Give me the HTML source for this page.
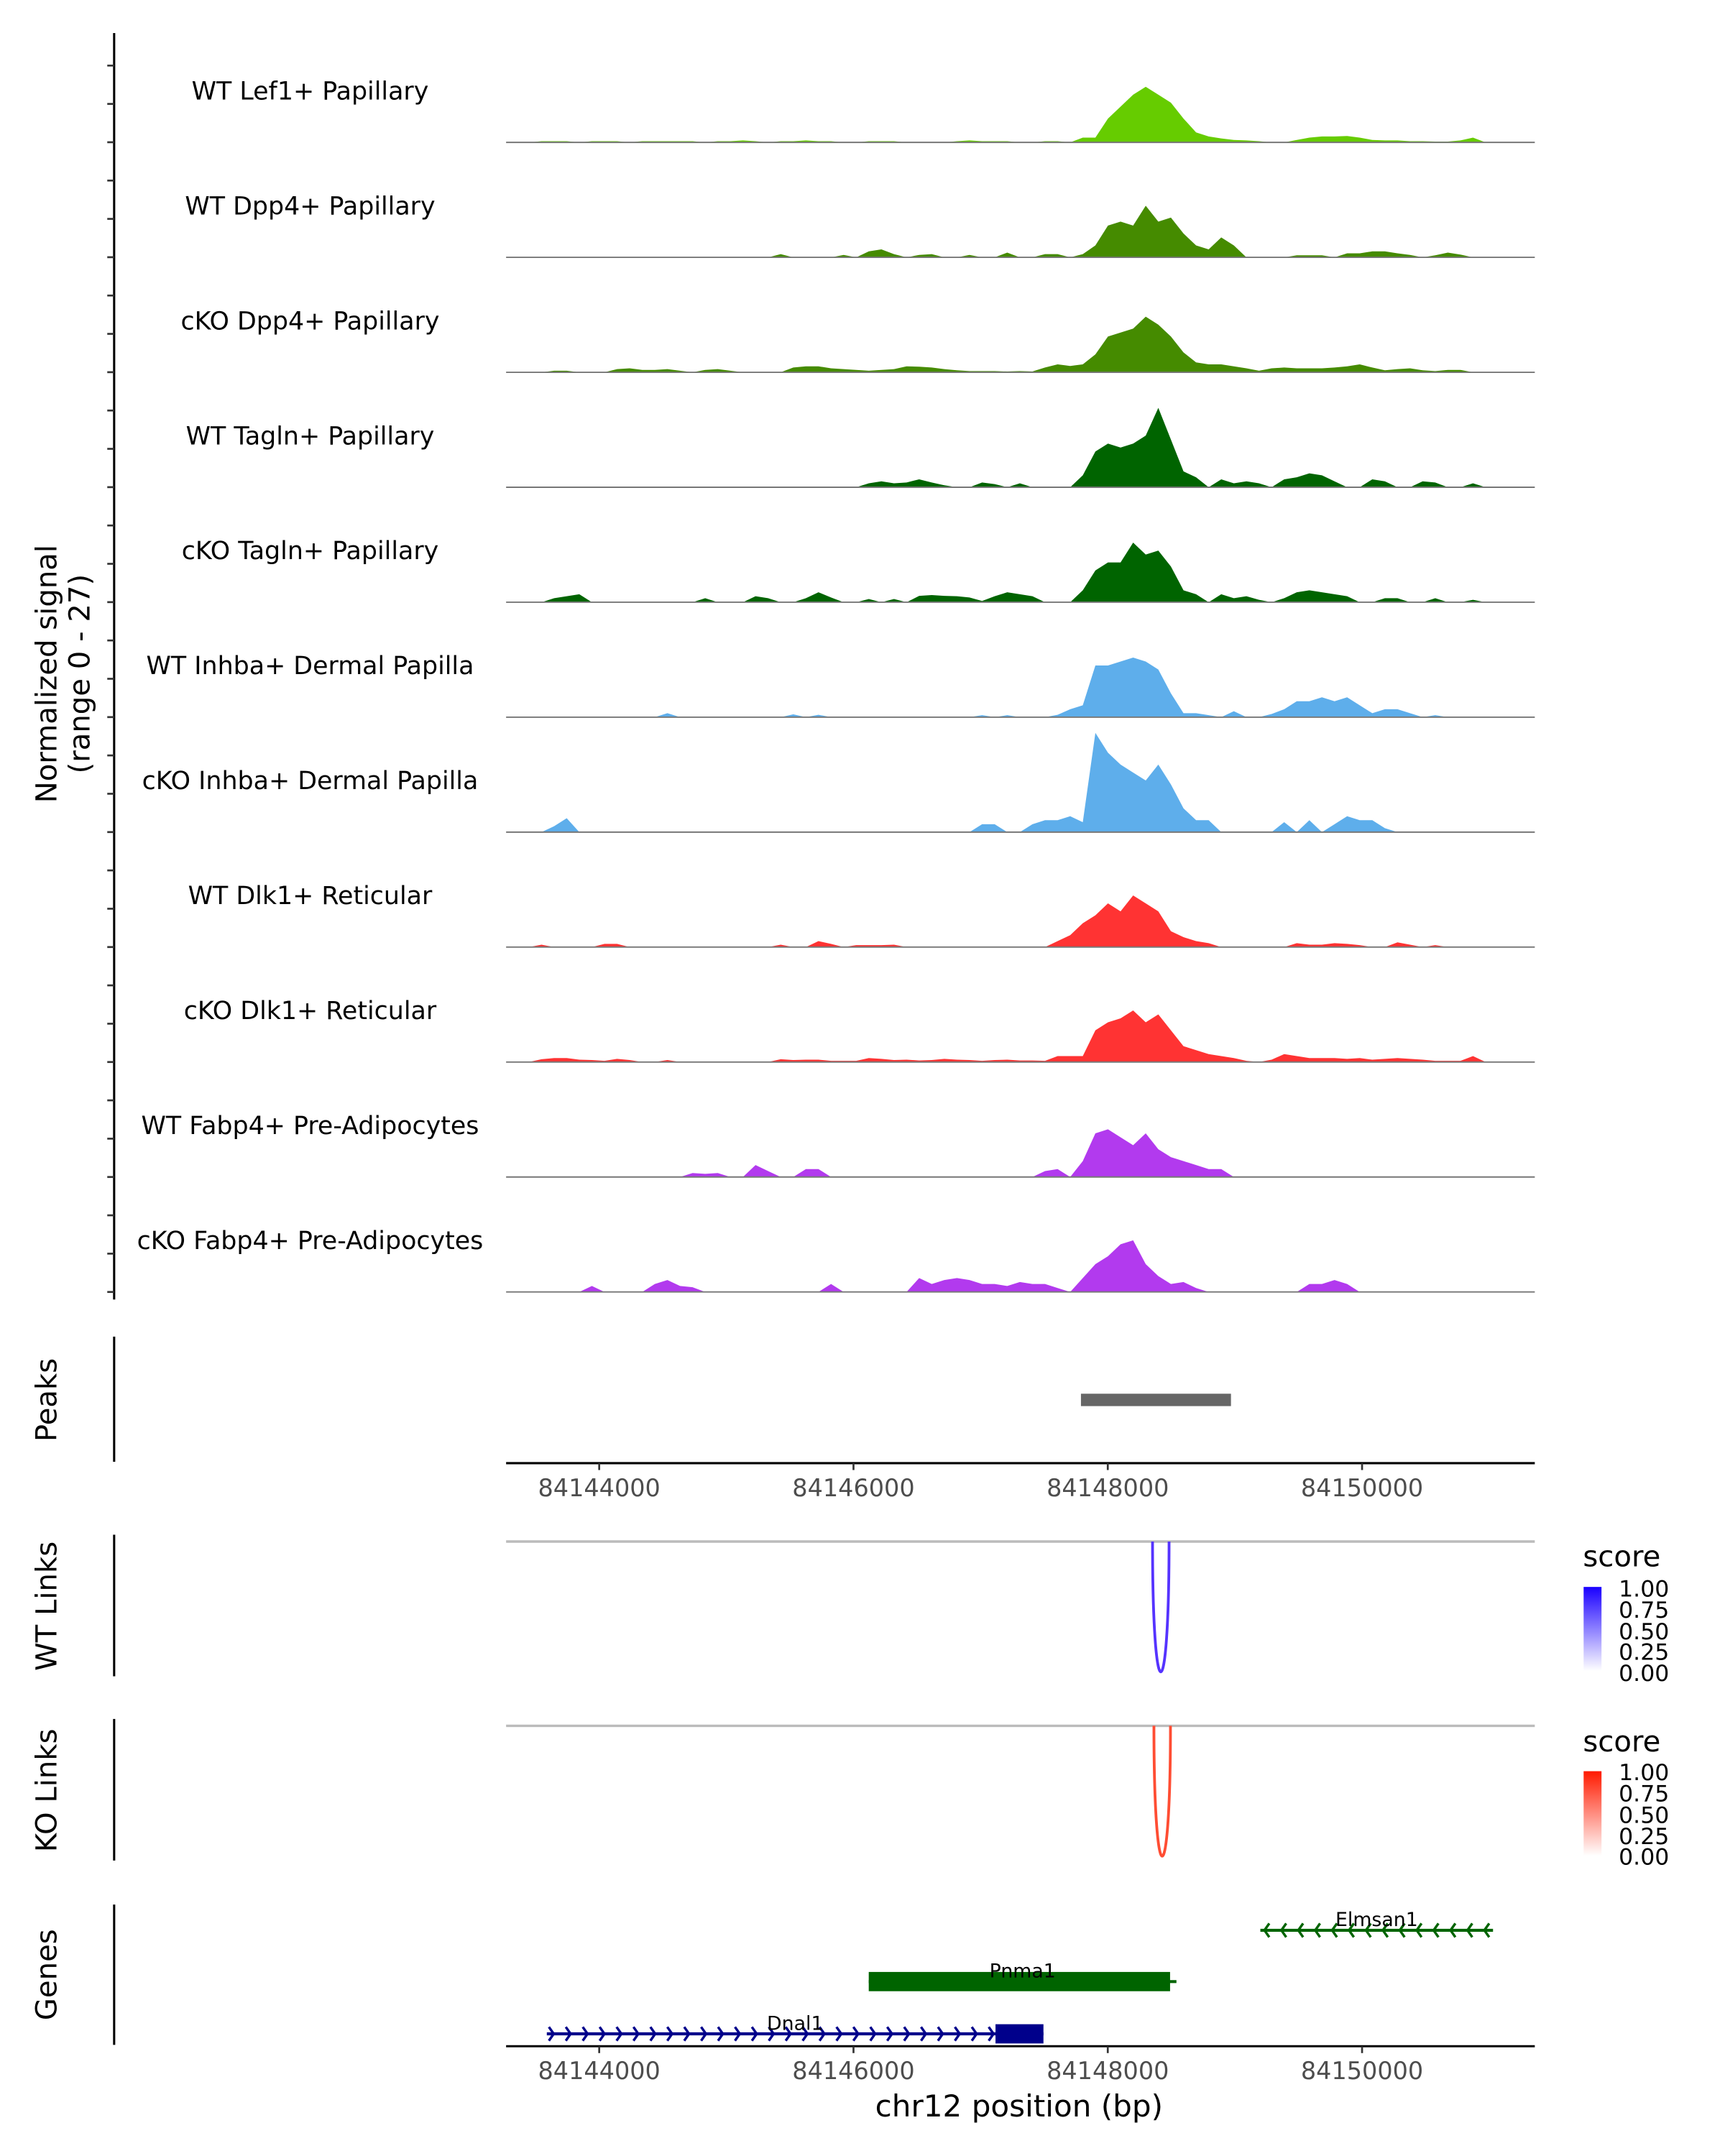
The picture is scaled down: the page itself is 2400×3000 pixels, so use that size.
<!DOCTYPE html>
<html><head><meta charset="utf-8">
<style>
html,body{margin:0;padding:0;background:#fff;}
svg{display:block;font-family:"DejaVu Sans","Liberation Sans",sans-serif;}
</style></head>
<body>
<svg id="chart" width="2400" height="3000" viewBox="0 0 1254.3 1567.8" xmlns="http://www.w3.org/2000/svg">
<defs>
<linearGradient id="gBlue" x1="0" y1="1" x2="0" y2="0"><stop offset="0" stop-color="#ffffff"/><stop offset="1" stop-color="#1a00ff"/></linearGradient>
<linearGradient id="gRed" x1="0" y1="1" x2="0" y2="0"><stop offset="0" stop-color="#ffffff"/><stop offset="1" stop-color="#ff1a00"/></linearGradient>
</defs>
<g id="tracks"></g>
<line x1="83" y1="24" x2="83" y2="945" stroke="#000" stroke-width="1.6"/>
<g id="yticks"></g>
<text transform="translate(41,490) rotate(-90)" text-anchor="middle" font-size="21">Normalized signal</text>
<text transform="translate(65,490) rotate(-90)" text-anchor="middle" font-size="21">(range 0 - 27)</text>

<line x1="83" y1="972" x2="83" y2="1063" stroke="#000" stroke-width="1.6"/>
<text transform="translate(41,1018) rotate(-90)" text-anchor="middle" font-size="21">Peaks</text>
<g id="peaks"></g>
<line x1="368" y1="1064" x2="1116" y2="1064" stroke="#000" stroke-width="1.6"/>
<g id="xticks1"></g>

<line x1="83" y1="1116" x2="83" y2="1219" stroke="#000" stroke-width="1.6"/>
<text transform="translate(41,1168) rotate(-90)" text-anchor="middle" font-size="21">WT Links</text>
<line x1="368" y1="1121" x2="1116" y2="1121" stroke="#bbb" stroke-width="1.8"/>
<g id="wtlinks"></g>
<g>
<text x="1151" y="1139" font-size="21">score</text>
<rect x="1151.5" y="1154" width="13" height="61" fill="url(#gBlue)"/>
<text x="1177" y="1161" font-size="16.5">1.00</text>
<text x="1177" y="1176.5" font-size="16.5">0.75</text>
<text x="1177" y="1192" font-size="16.5">0.50</text>
<text x="1177" y="1207" font-size="16.5">0.25</text>
<text x="1177" y="1222.5" font-size="16.5">0.00</text>
</g>

<line x1="83" y1="1250" x2="83" y2="1353" stroke="#000" stroke-width="1.6"/>
<text transform="translate(41,1302) rotate(-90)" text-anchor="middle" font-size="21">KO Links</text>
<line x1="368" y1="1255" x2="1116" y2="1255" stroke="#bbb" stroke-width="1.8"/>
<g id="kolinks"></g>
<g>
<text x="1151" y="1273.5" font-size="21">score</text>
<rect x="1151.5" y="1288" width="13" height="61.5" fill="url(#gRed)"/>
<text x="1177" y="1294.5" font-size="16.5">1.00</text>
<text x="1177" y="1310" font-size="16.5">0.75</text>
<text x="1177" y="1325.5" font-size="16.5">0.50</text>
<text x="1177" y="1341" font-size="16.5">0.25</text>
<text x="1177" y="1356" font-size="16.5">0.00</text>
</g>

<line x1="83" y1="1385" x2="83" y2="1487" stroke="#000" stroke-width="1.6"/>
<text transform="translate(41,1436) rotate(-90)" text-anchor="middle" font-size="21">Genes</text>
<g id="genes"></g>
<line x1="368" y1="1488" x2="1116" y2="1488" stroke="#000" stroke-width="1.6"/>
<g id="xticks2"></g>
<text x="741" y="1539" text-anchor="middle" font-size="22">chr12 position (bp)</text>
</svg>
<script>
// ---- data ----
const trackNames = ["WT Lef1+ Papillary","WT Dpp4+ Papillary","cKO Dpp4+ Papillary","WT Tagln+ Papillary","cKO Tagln+ Papillary","WT Inhba+ Dermal Papilla","cKO Inhba+ Dermal Papilla","WT Dlk1+ Reticular","cKO Dlk1+ Reticular","WT Fabp4+ Pre-Adipocytes","cKO Fabp4+ Pre-Adipocytes"];
const trackColors = ["#66CC00","#458B00","#458B00","#006400","#006400","#5EAEEB","#5EAEEB","#FF3333","#FF3333","#B23AEE","#B23AEE"];
const binStart = 84143200;
const binSize = 99;
const xTicks = [84144000,84146000,84148000,84150000];
const yMax = 27;
const sigLef1 = [0,0,0,0.3,0.3,0.3,0,0.3,0.3,0.3,0,0.3,0.3,0.3,0.3,0.3,0,0.3,0.3,0.5,0.3,0,0.3,0.3,0.5,0.3,0.3,0,0,0.3,0.3,0.3,0,0,0,0,0.3,0.5,0.3,0.3,0.3,0,0,0.3,0.3,0,1.2,1.2,6,9,12,14,12,10,6,2.5,1.5,1,0.6,0.5,0.3,0,0,0.6,1.2,1.5,1.5,1.6,1.2,0.6,0.5,0.5,0.3,0.3,0.2,0.2,0.5,1.2,0,0];
const sigDpp4WT = [0,0,0,0,0,0,0,0,0,0,0,0,0,0,0,0,0,0,0,0,0,0,0.8,0,0,0,0,0.6,0,1.5,2,0.8,0,0.6,0.8,0,0,0.6,0,0,1.2,0,0,0.8,0.8,0,0.8,3,8,9,8,13,9,10,6,3,2,5,3,0,0,0,0,0.5,0.5,0.5,0,1,1,1.5,1.5,1,0.6,0,0.5,1.2,0.7,0,0,0];
const sigDpp4KO = [0,0,0,0,0.4,0.4,0,0,0,0.8,1,0.6,0.6,0.8,0.4,0,0.6,0.8,0.4,0,0,0,0,1.2,1.5,1.5,1,0.8,0.6,0.4,0.6,0.8,1.5,1.4,1.2,0.8,0.5,0.3,0.3,0.3,0.2,0.3,0.2,1.2,2,1.6,2,4.5,9,10,11,14,12,9,5,2.5,2,2,1.5,1,0.4,1,1.2,1,1,1,1.2,1.5,2,1.2,0.5,0.8,1,0.5,0.3,0.6,0.6,0,0,0];
const sigTaglnWT = [0,0,0,0,0,0,0,0,0,0,0,0,0,0,0,0,0,0,0,0,0,0,0,0,0,0,0,0,0,1,1.5,1,1.2,2,1.2,0.5,0,0,1.2,0.8,0,1,0,0,0,0,3,9,11,10,11,13,20,12,4,2.5,0,2,1,1.5,1,0,2,2.5,3.5,3,1.5,0,0,2,1.5,0,0,1.5,1.2,0,0,1,0,0];
const sigTaglnKO = [0,0,0,0,1,1.5,2,0,0,0,0,0,0,0,0,0,1,0,0,0,1.5,1,0,0,1,2.5,1.2,0,0,0.8,0,0.8,0,1.6,1.8,1.6,1.5,1.2,0.3,1.5,2.5,2,1.5,0,0,0,3,8,10,10,15,12,13,9,3,2,0,2,1,1.5,0.6,0,1,2.5,3,2.5,2,1.5,0,0,1,1,0,0,1,0,0,0.6,0,0];
const sigInhbaWT = [0,0,0,0,0,0,0,0,0,0,0,0,0,1,0,0,0,0,0,0,0,0,0,0.7,0,0.6,0,0,0,0,0,0,0,0,0,0,0,0,0.5,0,0.5,0,0,0,0.6,2,3,13,13,14,15,14,12,6,1,1,0.5,0,1.5,0,0,0.8,2,4,4,5,4,5,3,1,2,2,1,0,0.5,0,0,0,0,0];
const sigInhbaKO = [0,0,0,0,1.5,3.5,0,0,0,0,0,0,0,0,0,0,0,0,0,0,0,0,0,0,0,0,0,0,0,0,0,0,0,0,0,0,0,0,2,2,0,0,2,3,3,4,2.5,25,20,17,15,13,17,12,6,3,3,0,0,0,0,0,2.5,0,3,0,2,4,3,3,1,0,0,0,0,0,0,0,0,0];
const sigDlk1WT = [0,0,0,0.6,0,0,0,0,0.8,0.8,0,0,0,0,0,0,0,0,0,0,0,0,0.6,0,0,1.5,0.8,0,0.5,0.5,0.5,0.6,0,0,0,0,0,0,0,0,0,0,0,0,1.5,3,6,8,11,9,13,11,9,4,2.5,1.5,1,0,0,0,0,0,0,1,0.6,0.6,1,0.8,0.5,0,0,1.2,0.6,0,0.5,0,0,0,0,0];
const sigDlk1KO = [0,0,0,0.7,1,1,0.6,0.5,0.3,0.8,0.5,0,0,0.5,0,0,0,0,0,0,0,0,0.7,0.5,0.6,0.6,0.3,0.3,0.3,1,0.8,0.5,0.6,0.4,0.5,0.8,0.6,0.5,0.3,0.5,0.6,0.4,0.4,0.3,1.5,1.5,1.5,8,10,11,13,10,12,8,4,3,2,1.5,1,0.3,0,0.6,2,1.5,1,1,1,0.8,1,0.6,0.8,1,0.8,0.6,0.3,0.3,0.3,1.5,0,0];
const sigFabp4WT = [0,0,0,0,0,0,0,0,0,0,0,0,0,0,0,1,0.8,1,0,0,3,1.5,0,0,2,2,0,0,0,0,0,0,0,0,0,0,0,0,0,0,0,0,0,1.5,2,0,4,11,12,10,8,11,7,5,4,3,2,2,0,0,0,0,0,0,0,0,0,0,0,0,0,0,0,0,0,0,0,0,0,0];
const sigFabp4KO = [0,0,0,0,0,0,0,1.5,0,0,0,0,2,3,1.5,1.2,0,0,0,0,0,0,0,0,0,0,2,0,0,0,0,0,0,3.5,2,3,3.5,3,2,2,1.5,2.5,2,2,1,0,3.5,7,9,12,13,7,4,2,2.5,1,0,0,0,0,0,0,0,0,2,2,3,2,0,0,0,0,0,0,0,0,0,0,0,0];
const signals = [sigLef1,sigDpp4WT,sigDpp4KO,sigTaglnWT,sigTaglnKO,sigInhbaWT,sigInhbaKO,sigDlk1WT,sigDlk1KO,sigFabp4WT,sigFabp4KO];
const peakRegions = [[84147789,84148969]];
const wtLinks = [[84148352,84148482,1.0]];
const koLinks = [[84148363,84148493,1.0]];
const genes = [
 {name:"Elmsan1",start:84149200,end:84151030,strand:"-",row:0,color:"#006400",exons:[]},
 {name:"Pnma1",start:84146120,end:84148540,strand:"-",row:1,color:"#006400",exons:[[84146120,84148490]]},
 {name:"Dnal1",start:84143588,end:84147494,strand:"+",row:2,color:"#00008B",exons:[[84147117,84147494]]}
];
// ---- scales ----
const NS="http://www.w3.org/2000/svg";
const xPx = bp => 435.7 + (bp-84144000)*0.09245;
const baseY = i => 103.5 + i*83.6;
const yScale = v => v*(78/yMax);
function mk(tag, attrs, parent){const e=document.createElementNS(NS,tag);for(const k in attrs)e.setAttribute(k,attrs[k]);parent.appendChild(e);return e;}
const tracks=document.getElementById('tracks');
signals.forEach((arr,t)=>{
  const b=baseY(t);
  let d=`M${Math.max(368,xPx(binStart))},${b}`;
  arr.forEach((v,i)=>{const xc=xPx(binStart+(i+0.5)*binSize);const y=b-yScale(v);d+=` L${Math.max(368,xc)},${y}`;});
  d+=` L${xPx(binStart+arr.length*binSize)},${b} Z`;
  const p=mk('path',{d:d,fill:trackColors[t]},tracks);
  
  
  const l=mk('line',{x1:368,x2:1116,y1:b,y2:b,stroke:'#777','stroke-width':1},tracks);
  
  
  const tx=mk('text',{x:225.5,y:b-31.2,'text-anchor':'middle','font-size':18.2},tracks);
  tx.textContent=trackNames[t];
  
  
});
const yt=document.getElementById('yticks');
for(let k=0;k<33;k++){const y=baseY(10)-k*27.87;const l=mk('line',{x1:78,x2:83,y1:y,y2:y,stroke:'#333','stroke-width':1.4},yt);
  
  }
const pk=document.getElementById('peaks');
peakRegions.forEach(r=>{const e=mk('rect',{x:xPx(r[0]),y:1013.5,width:xPx(r[1])-xPx(r[0]),height:9,fill:'#666'},pk);
  
  });
[['xticks1',1064],['xticks2',1488]].forEach(([id,y])=>{const g=document.getElementById(id);
  xTicks.forEach(t=>{const x=xPx(t);const l=mk('line',{x1:x,x2:x,y1:y,y2:y+5,stroke:'#333','stroke-width':1.4},g);
  
  
  const tx=mk('text',{x:x,y:y+24,'text-anchor':'middle','font-size':17.5,fill:'#4d4d4d'},g);tx.textContent=String(t);
  
  });});
function drawLinks(id,links,top,bottom,col){const g=document.getElementById(id);
  links.forEach(L=>{const a=xPx(L[0]),b=xPx(L[1]);const depth=(bottom-top)*L[2];
  const d=`M${a},${top} C${a},${top+depth*1.33} ${b},${top+depth*1.33} ${b},${top}`;
  const p=mk('path',{d:d,fill:'none',stroke:col,'stroke-width':2},g);
  
  });}
drawLinks('wtlinks',wtLinks,1121,1216,'#5533FF');
drawLinks('kolinks',koLinks,1255,1350,'#FF4D33');
const gg=document.getElementById('genes');
const rowY=[1403.7,1441,1479];
genes.forEach(g=>{const y=rowY[g.row];const x0=xPx(g.start),x1=xPx(g.end);
  const l=mk('line',{x1:x0,x2:x1,y1:y,y2:y,stroke:g.color,'stroke-width':2.2},gg);
  
  
  for(let x=x0+4;x<x1-2;x+=12.3){const d=g.strand==='+'?`M${x-2.5},${y-5} L${x+1},${y} L${x-2.5},${y+5}`:`M${x+2.5},${y-5} L${x-1},${y} L${x+2.5},${y+5}`;
    const a=mk('path',{d:d,fill:'none',stroke:g.color,'stroke-width':1.8},gg);
    
    }
  g.exons.forEach(e=>{const r=mk('rect',{x:xPx(e[0]),y:y-7,width:xPx(e[1])-xPx(e[0]),height:14,fill:g.color},gg);
    
    });
  const tx=mk('text',{x:(x0+x1)/2,y:y-3,'text-anchor':'middle','font-size':14},gg);tx.textContent=g.name;
  
  
});
</script>
</body></html>
